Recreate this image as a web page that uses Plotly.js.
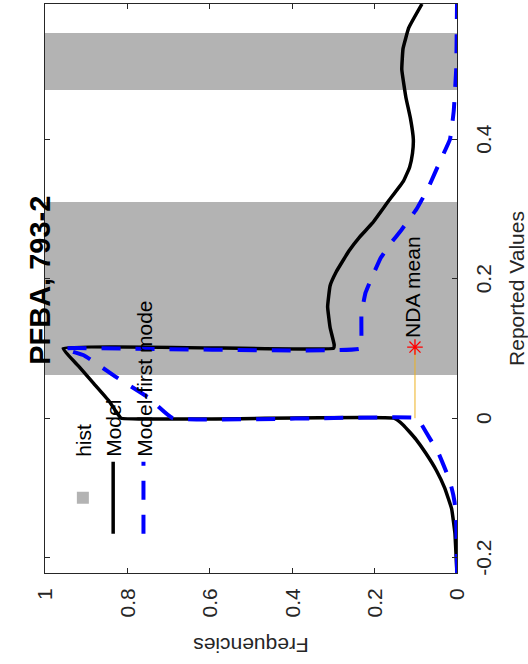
<!DOCTYPE html>
<html>
<head>
<meta charset="utf-8">
<script src="https://cdn.plot.ly/plotly-3.0.1.min.js"></script>
<style>
  html, body { margin: 0; padding: 0; width: 528px; height: 664px; overflow: hidden; background: #fff; }
  #chart { position: absolute; left: 0; top: 0; width: 664px; height: 528px;
           transform-origin: 0 0; transform: translate(0px, 664px) rotate(-90deg); }
</style>
</head>
<body>
<div id="chart"></div>
<script>
// Histogram bars (edges along "Reported Values", frequency height)
const histLeft  = [0.062, 0.470];
const histRight = [0.310, 0.553];
const histFreq  = [1.0, 1.0];

// Model (black solid)
const modelX = [-0.222,-0.20,-0.165,-0.13,-0.10,-0.075,-0.05,-0.03,-0.01,0,0,0.01,0.025,0.05,0.075,0.1,0.1,0.105,0.13,0.16,0.19,0.21,0.24,0.26,0.28,0.31,0.34,0.36,0.38,0.40,0.43,0.46,0.50,0.53,0.56,0.594];
const modelY = [0,0.002,0.005,0.013,0.03,0.05,0.076,0.10,0.13,0.153,0.815,0.828,0.845,0.882,0.919,0.956,0.30,0.298,0.308,0.314,0.308,0.293,0.262,0.236,0.205,0.168,0.13,0.115,0.108,0.106,0.113,0.124,0.134,0.131,0.117,0.085];

// Model-first mode (blue dashed)
const firstX = [-0.222,-0.15,-0.12,-0.10,-0.08,-0.05,-0.03,-0.01,0,0,0.03,0.06,0.09,0.1,0.1,0.12,0.15,0.18,0.20,0.23,0.25,0.27,0.30,0.33,0.37,0.40,0.44,0.50,0.594];
const firstY = [0,0.002,0.006,0.013,0.024,0.045,0.065,0.085,0.095,0.69,0.75,0.83,0.905,0.956,0.234,0.232,0.232,0.222,0.208,0.185,0.162,0.135,0.098,0.07,0.04,0.017,0.008,0.002,0];

// NDA mean
const ndaX = [0.102];
const ndaY = [0.102];
const ndaLineX = [0, 0.102];
const ndaLineY = [0.102, 0.102];

const xTicks = [-0.2, 0, 0.2, 0.4];
const xTickText = ['-0.2', '0', '0.2', '0.4'];
const yTicks = [0, 0.2, 0.4, 0.6, 0.8, 1];
const yTickText = ['0', '0.2', '0.4', '0.6', '0.8', '1'];

const FONT = 'Liberation Sans, Arial, sans-serif';
const AX = '#262626';

const traces = [
  {
    type: 'bar', name: 'hist',
    x: histLeft.map((l, i) => (l + histRight[i]) / 2),
    y: histFreq,
    width: histLeft.map((l, i) => histRight[i] - l),
    marker: { color: '#b3b3b3', line: { width: 0 } }
  },
  {
    type: 'scatter', mode: 'lines', name: 'Model',
    x: modelX, y: modelY,
    line: { color: '#000000', width: 3.5, shape: 'spline', smoothing: 0.3 }
  },
  {
    type: 'scatter', mode: 'lines', name: 'Model-first mode',
    x: firstX, y: firstY,
    line: { color: '#0000ff', width: 4, dash: '19px,15px', shape: 'spline', smoothing: 0.3 }
  },
  {
    type: 'scatter', mode: 'lines', showlegend: false,
    x: ndaLineX, y: ndaLineY,
    line: { color: '#edb120', width: 1 }
  },
  {
    type: 'scatter', mode: 'markers+text', showlegend: false,
    x: ndaX, y: ndaY, text: ['NDA mean'], textposition: 'middle right',
    textfont: { family: FONT, size: 21, color: '#000' },
    marker: { symbol: 'asterisk-open', size: 13, color: '#ff0000', line: { color: '#ff0000', width: 1.3 } }
  }
];

const layout = {
  width: 664, height: 528,
  margin: { l: 91, r: 4, t: 45, b: 71 },
  paper_bgcolor: '#ffffff', plot_bgcolor: '#ffffff',
  font: { family: FONT, color: AX, size: 21 },
  showlegend: true,
  bargap: 0,
  title: { text: '<b>PFBA, 793-2</b>', font: { family: FONT, size: 29, color: '#000' },
           x: 0.578, xanchor: 'center', y: 0.925, yanchor: 'middle' },
  legend: { x: 0.06, y: 0.957, xanchor: 'left', yanchor: 'top', bgcolor: 'rgba(0,0,0,0)',
            font: { family: FONT, size: 21, color: '#000' }, itemwidth: 72, tracegroupgap: 0 },
  xaxis: {
    range: [-0.222, 0.594], tickvals: xTicks, ticktext: xTickText,
    ticks: 'inside', ticklen: 5, tickcolor: AX, showline: true, linecolor: AX, linewidth: 1,
    mirror: 'ticks', showgrid: false, zeroline: false, ticklabelstandoff: 8,
    tickfont: { family: FONT, size: 21, color: AX },
    title: { text: 'Reported Values', font: { family: FONT, size: 21, color: AX }, standoff: 16 }
  },
  yaxis: {
    range: [0, 1], tickvals: yTicks, ticktext: yTickText,
    ticks: 'inside', ticklen: 5, tickcolor: AX, showline: true, linecolor: AX, linewidth: 1,
    mirror: 'ticks', showgrid: false, zeroline: false, ticklabelstandoff: 10,
    tickfont: { family: FONT, size: 21, color: AX },
    title: { text: 'Frequencies', font: { family: FONT, size: 21, color: AX }, standoff: 14 }
  }
};

Plotly.newPlot('chart', traces, layout, { displayModeBar: false, staticPlot: true });
</script>
</body>
</html>
